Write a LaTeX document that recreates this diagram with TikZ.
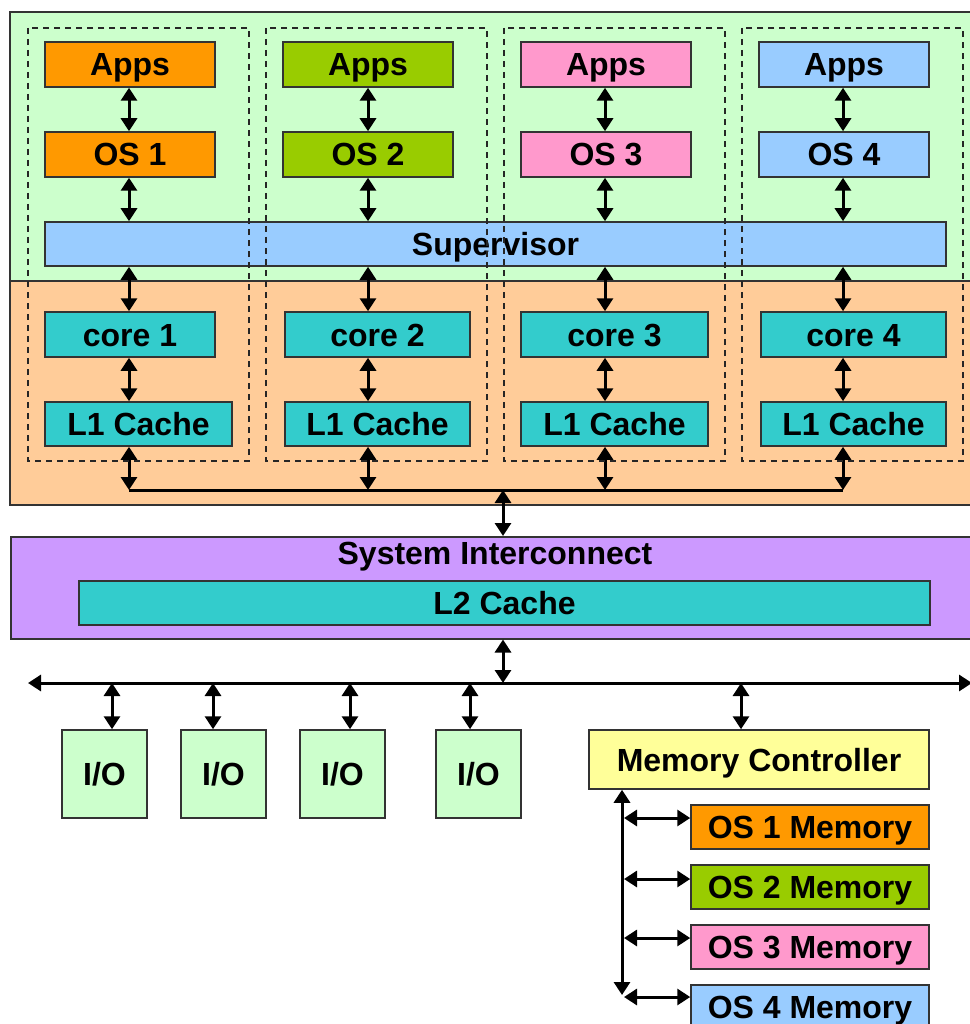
\documentclass[tikz,border=0pt]{standalone}
\usepackage{fontspec}
\setmainfont{Liberation Sans}
\usetikzlibrary{arrows.meta}

\definecolor{vmgreen}{HTML}{CCFFCC}
\definecolor{hworange}{HTML}{FFCC99}
\definecolor{osorange}{HTML}{FF9900}
\definecolor{osgreen}{HTML}{99CC00}
\definecolor{ospink}{HTML}{FF99CC}
\definecolor{osblue}{HTML}{99CCFF}
\definecolor{coreteal}{HTML}{33CCCC}
\definecolor{sysviolet}{HTML}{CC99FF}
\definecolor{mcyellow}{HTML}{FFFF99}

\begin{document}
\begin{tikzpicture}[x=1pt, y=-1pt,
    blk/.style={draw=black!80, line width=1.5pt, inner sep=0pt,
      text height=23pt, text depth=0pt,
      font=\bfseries\fontsize{32}{36}\selectfont},
    txt/.style={inner sep=0pt, text height=23pt, text depth=0pt,
      font=\bfseries\fontsize{32}{36}\selectfont},
    dbl/.style={{Triangle[width=16pt,length=13pt]}-{Triangle[width=16pt,length=13pt]},
      line width=3pt},
    bus/.style={line width=3pt},
    dashbox/.style={draw=black!85, line width=1.3pt, dash pattern=on 6pt off 5pt}]

  \useasboundingbox (0,0) rectangle (969,1024);

  %% software and hardware areas
  \draw[fill=vmgreen, draw=black!80, line width=1.5pt] (10,12) rectangle (990,281);
  \draw[fill=hworange, draw=black!80, line width=1.5pt] (10,281) rectangle (990,505);

  %% apps and guest OS
  \foreach \i/\x/\c in {1/130/osorange, 2/368/osgreen, 3/606/ospink, 4/844/osblue}{
    \node[blk, fill=\c, minimum width=170, minimum height=45] (apps\i) at (\x,64.5) {Apps};
    \node[blk, fill=\c, minimum width=170, minimum height=45] (os\i) at (\x,154.5) {OS \i};
  }

  \node[blk, fill=osblue, minimum width=901, minimum height=44] (sup) at (495.5,244) {Supervisor};

  %% cores and L1
  \foreach \i/\cx/\cw/\lx/\lw in {1/130/170/138.5/187, 2/377.5/185/377.5/185,
                                 3/614.5/187/614.5/187, 4/853.5/185/853.5/185}{
    \node[blk, fill=coreteal, minimum width=\cw, minimum height=45] (core\i) at (\cx,334.5) {core \i};
    \node[blk, fill=coreteal, minimum width=\lw, minimum height=44] (lone\i) at (\lx,424) {L1 Cache};
  }

  \coordinate (busa) at (129,490);
  \coordinate (busb) at (843,490);
  \draw[bus] (busa) -- (busb);

  \foreach \i/\a in {1/129, 2/368, 3/605, 4/843}{
    \coordinate (col\i) at (\a,0);
    \draw[dbl] (apps\i.south -| col\i) -- (os\i.north -| col\i);
    \draw[dbl] (os\i.south -| col\i) -- (sup.north -| col\i);
    \draw[dbl] (sup.south -| col\i) -- (core\i.north -| col\i);
    \draw[dbl] (core\i.south -| col\i) -- (lone\i.north -| col\i);
    \draw[dbl] (lone\i.south -| col\i) -- (col\i |- busa);
  }

  %% one dashed frame per partition
  \foreach \l in {28,266,504,742}
    \draw[dashbox] (\l,28) rectangle +(221,433);

  %% interconnect
  \node[blk, fill=sysviolet, minimum width=990, minimum height=102, anchor=north west]
    (sysint) at (10,536) {};
  \node[txt] (systxt) at (495,553) {System Interconnect};
  \node[blk, fill=coreteal, minimum width=851, minimum height=44] (ltwo) at (504.5,603) {L2 Cache};

  \coordinate (tapa) at (503,490);
  \draw[dbl] (tapa) -- (sysint.north -| tapa);
  \coordinate (tapb) at (503,683);
  \draw[dbl] (sysint.south -| tapb) -- (tapb);

  %% system bus
  \coordinate (iol) at (28,683);
  \coordinate (ior) at (972,683);
  \draw[dbl] (iol) -- (ior);

  \foreach \i/\x/\a in {1/104.5/112, 2/223.5/213, 3/342.5/350, 4/478.5/470}{
    \node[blk, fill=vmgreen, minimum width=85, minimum height=88] (io\i) at (\x,774) {I/O};
    \coordinate (iotap\i) at (\a,683);
    \draw[dbl] (iotap\i) -- (io\i.north -| iotap\i);
  }

  %% memory
  \node[blk, fill=mcyellow, minimum width=340, minimum height=59] (mc) at (759,759.5) {Memory Controller};
  \coordinate (mctap) at (741,683);
  \draw[dbl] (mctap) -- (mc.north -| mctap);

  \coordinate (mbot) at (622,995);
  \draw[dbl] (mc.south -| mbot) -- (mbot);

  \foreach \i/\c/\y/\t in {1/osorange/827/818, 2/osgreen/887/879,
                           3/ospink/947/938, 4/osblue/1007/997}{
    \node[blk, fill=\c, minimum width=238, minimum height=44] (mem\i) at (810,\y) {OS \i\ Memory};
    \coordinate (mtap\i) at (624,\t);
    \draw[dbl] (mtap\i) -- (mem\i.west |- mtap\i);
  }
\end{tikzpicture}
\end{document}
